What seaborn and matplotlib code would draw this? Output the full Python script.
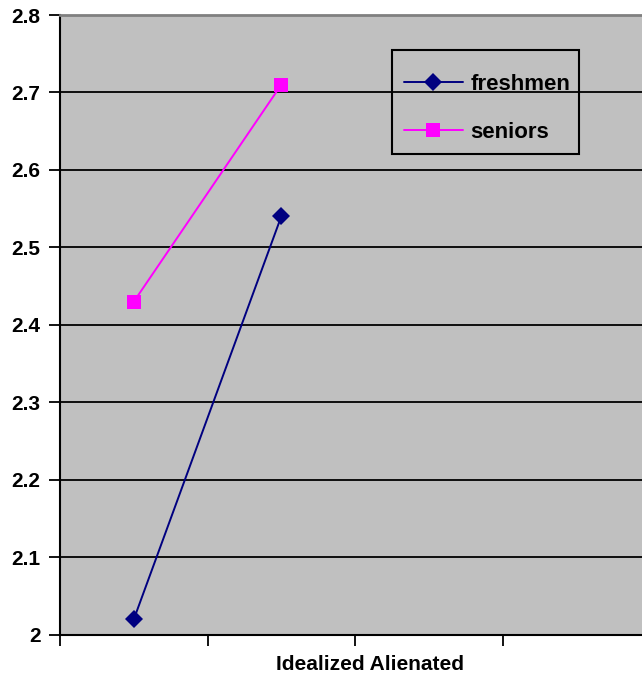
import matplotlib
matplotlib.use("Agg")
import matplotlib.pyplot as plt
import seaborn as sns
import numpy as np
import pandas as pd
from matplotlib.lines import Line2D
from matplotlib.patches import Rectangle

# Four category slots along the x axis; only the first two carry data
slots = [0.5, 1.5, 2.5, 3.5]
freshmen = [2.02, 2.54, np.nan, np.nan]
seniors = [2.43, 2.71, np.nan, np.nan]
groups = ["freshmen", "seniors"]
y_ticks = [2.0, 2.1, 2.2, 2.3, 2.4, 2.5, 2.6, 2.7, 2.8]
y_labels = ["2", "2.1", "2.2", "2.3", "2.4", "2.5", "2.6", "2.7", "2.8"]
x_title = "Idealized Alienated"

df = pd.DataFrame({
    "slot": slots * 2,
    "score": freshmen + seniors,
    "group": [groups[0]] * 4 + [groups[1]] * 4,
})

sns.set_theme(style="white")
plt.rcParams["font.family"] = ["Liberation Sans", "DejaVu Sans"]
plt.rcParams["text.color"] = "black"
plt.rcParams["axes.labelcolor"] = "black"
plt.rcParams["ytick.color"] = "black"
plt.rcParams["xtick.color"] = "black"

fig = plt.figure(figsize=(6.42, 6.78), dpi=100)
W, H = 642, 678
left, top, right, bottom = 60, 15, 650, 635
ax = fig.add_axes([left / W, 1 - bottom / H, (right - left) / W, (bottom - top) / H])
ax.set_facecolor("#c0c0c0")


def ax_x(px):
    return (px - left) / (right - left)


def ax_y(py):
    return (bottom - py) / (bottom - top)


palette = {"freshmen": "#000080", "seniors": "#ff00ff"}
markers = {"freshmen": "D", "seniors": "s"}
sizes = [9, 10]
sns.lineplot(data=df.dropna(), x="slot", y="score", hue="group", style="group",
             palette=palette, markers=markers, dashes=False, ax=ax,
             linewidth=1.4, markersize=10, markeredgewidth=0, legend=False)
for line, ms in zip(ax.lines, sizes):
    line.set_markersize(ms)

ax.set_xlim(0, 4)
ax.set_ylim(2.0, 2.8)
ax.set_yticks(y_ticks)
ax.set_yticklabels(y_labels, fontsize=15, fontweight="bold", color="black")
ax.set_xticks([0, 1, 2, 3, 4])
ax.set_xticklabels([])
ax.yaxis.grid(True, color="black", linewidth=1.3)
ax.set_axisbelow(True)

ax.tick_params(axis="y", direction="out", length=8, width=1.3, color="black", pad=6, left=True)
ax.tick_params(axis="x", direction="out", length=8, width=1.3, color="black", bottom=True)

for side in ["left", "bottom"]:
    ax.spines[side].set_color("black")
    ax.spines[side].set_linewidth(1.5)
ax.spines["top"].set_color("#808080")
ax.spines["top"].set_linewidth(2)
ax.spines["right"].set_visible(False)

ax.set_xlabel(x_title, fontsize=15, fontweight="bold", color="black")
ax.xaxis.set_label_coords(ax_x(370), ax_y(655))
ax.set_ylabel("")

# Legend entries, with a plain black box drawn around them
handles = [
    Line2D([], [], color=palette[g], marker=markers[g], markersize=ms,
           markeredgewidth=0, linewidth=1.4)
    for g, ms in zip(groups, sizes)
]
leg = ax.legend(handles, groups, loc="upper left",
                bbox_to_anchor=(ax_x(404), ax_y(74)),
                frameon=False, prop={"size": 16, "weight": "bold"},
                handlelength=2.64, labelspacing=1.22, borderpad=0,
                handletextpad=0.36, borderaxespad=0)
for t in leg.get_texts():
    t.set_color("black")

box = Rectangle((ax_x(392), ax_y(154)), ax_x(579) - ax_x(392), ax_y(50) - ax_y(154),
                transform=ax.transAxes, fill=False, edgecolor="black",
                linewidth=1.5, zorder=5)
ax.add_patch(box)

fig.savefig("out.png", dpi=100)
